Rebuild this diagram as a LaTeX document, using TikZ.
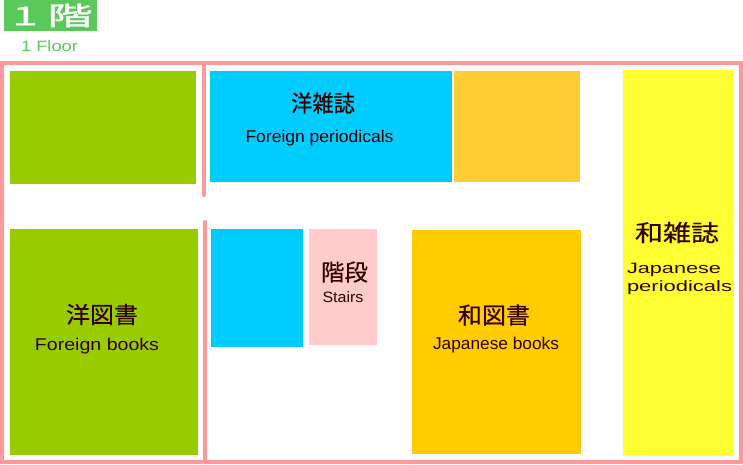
\documentclass[tikz,border=0pt]{standalone}
\usepackage{graphicx}
\usepackage{fontspec}
\setmainfont{Liberation Sans}
\newfontfamily\cjk[FakeBold=0.3]{Noto Sans CJK JP}
\newfontfamily\cjkb[FakeBold=1.2]{Noto Sans CJK JP}
\definecolor{wallpink}{HTML}{FF9999}
\definecolor{leaf}{HTML}{99CC00}
\definecolor{sky}{HTML}{00CCFF}
\definecolor{teal}{HTML}{00CCCC}
\definecolor{amber}{HTML}{FFCC00}
\definecolor{lightamber}{HTML}{FFCC33}
\definecolor{lemon}{HTML}{FFFF33}
\definecolor{rose}{HTML}{FFCCCC}
\definecolor{badge}{HTML}{5AC85A}
\definecolor{ink}{HTML}{330000}
\newcommand{\fitw}[2]{\resizebox{#1}{\height}{#2}}
\tikzset{
  wall/.style={draw=wallpink,line width=4pt,line cap=round},
  jp/.style={text=ink,inner sep=0pt,font=\cjk\fontsize{23}{23}\selectfont},
  en/.style={text=ink,inner sep=0pt,anchor=base,font=\fontsize{17}{17}\selectfont},
  ensmall/.style={text=ink,inner sep=0pt,anchor=base,font=\fontsize{15}{15}\selectfont}
}
\begin{document}
\begin{tikzpicture}[x=1pt,y=-1pt]
\useasboundingbox (0,0) rectangle (743,464);
\fill[white] (0,0) rectangle (743,464);
% title
\node[fill=badge,inner sep=0pt,minimum width=93pt,minimum height=31pt,anchor=north west] (badge) at (4,0) {};
\node[text=white,inner sep=0pt,font=\cjkb\fontsize{26}{26}\selectfont] (title) at (52.5,15.5) {\fitw{80pt}{1 階}};
\node[text=badge,inner sep=0pt,anchor=base,font=\fontsize{15}{15}\selectfont] (floor) at (49.5,51.7) {\fitw{57pt}{1 Floor}};
% walls
\coordinate (tl) at (2,63);
\coordinate (tr) at (741,63);
\coordinate (br) at (741,461.5);
\coordinate (bl) at (2,461.5);
\draw[draw=wallpink,line width=4pt] (tl) -- (tr) -- (br) -- (bl) -- cycle;
\coordinate (wa) at (204,63);
\coordinate (wb) at (204,195);
\coordinate (wc) at (205,222);
\coordinate (wd) at (205,461);
\draw[wall] (wa) -- (wb);
\draw[wall] (wc) -- (wd);
% rooms
\fill[leaf] (10,71) rectangle (196,184);
\fill[leaf] (10,229) rectangle (198,455);
\fill[sky] (210,71) rectangle (452,182);
\fill[teal] (210,71) rectangle (211,182);
\fill[teal] (210,181) rectangle (452,182);
\fill[lightamber] (454,71) rectangle (580,182);
\fill[sky] (211,229) rectangle (303,347);
\fill[teal] (211,229) rectangle (212,347);
\fill[teal] (211,229) rectangle (303,230);
\fill[rose] (309,229) rectangle (377,345);
\fill[amber] (412,230) rectangle (581,454);
\fill[lemon] (623,70) rectangle (734,456);
% labels
\node[jp] (a) at (323,103) {\fitw{64pt}{洋雑誌}};
\node[en] (a2) at (319.5,142.3) {\fitw{148pt}{Foreign periodicals}};
\node[jp] (b) at (102,314.5) {\fitw{72pt}{洋図書}};
\node[en] (b2) at (97,350) {\fitw{124pt}{Foreign books}};
\node[jp] (c) at (344.5,272) {\fitw{47pt}{階段}};
\node[ensmall] (c2) at (343,302.7) {\fitw{41pt}{Stairs}};
\node[jp] (d) at (494,315) {\fitw{72pt}{和図書}};
\node[en] (d2) at (496,349) {\fitw{126pt}{Japanese books}};
\node[jp] (e) at (677,232.5) {\fitw{84pt}{和雑誌}};
\node[ensmall] (e2) at (674,273.3) {\fitw{94pt}{Japanese}};
\node[ensmall] (e3) at (679.5,291.7) {\fitw{105pt}{periodicals}};
\end{tikzpicture}
\end{document}
